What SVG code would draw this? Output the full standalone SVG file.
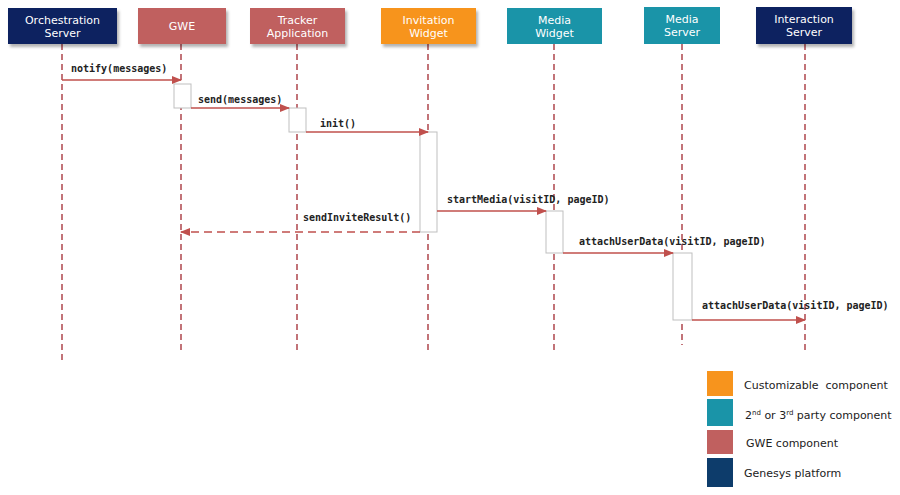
<svg xmlns="http://www.w3.org/2000/svg" width="900" height="495" viewBox="0 0 900 495">
<defs>
<filter id="sh" x="-10%" y="-10%" width="130%" height="140%">
<feDropShadow dx="2" dy="3" stdDeviation="1.5" flood-color="#000" flood-opacity="0.3"/>
</filter>
<marker id="ah" markerWidth="10" markerHeight="8" refX="9" refY="4" orient="auto" markerUnits="userSpaceOnUse">
<path d="M0,0 L10,4 L0,8 Z" fill="#c0504d"/>
</marker>
</defs>
<style>
.hd{font-family:"DejaVu Sans",Verdana,sans-serif;font-size:11px;fill:#fff;text-anchor:middle}
.ml{font-family:"DejaVu Sans Mono","Liberation Mono",monospace;font-size:10px;font-weight:bold;fill:#222}
.lg{font-family:"DejaVu Sans",Verdana,sans-serif;font-size:11px;fill:#222}
.life{stroke:#b85c62;stroke-width:1.7;stroke-dasharray:6 4;fill:none}
.msg{stroke:#c0504d;stroke-width:1.5;fill:none}
.act{fill:#fff;stroke:#bfbfbf;stroke-width:1}
.navy{fill:#0b2161}.gwe{fill:#c0605f}.orange{fill:#f7941d}.teal{fill:#1a94a8}
</style>
<rect width="900" height="495" fill="#fff"/>
<g id="lifelines">
<line class="life" x1="62" y1="44" x2="62" y2="360"/>
<line class="life" x1="181" y1="44" x2="181" y2="352"/>
<line class="life" x1="297" y1="44" x2="297" y2="352"/>
<line class="life" x1="428" y1="44" x2="428" y2="352"/>
<line class="life" x1="554" y1="44" x2="554" y2="352"/>
<line class="life" x1="682" y1="44" x2="682" y2="345"/>
<line class="life" x1="805" y1="44" x2="805" y2="352"/>
</g>
<g id="n-orch"><rect class="navy" x="8" y="8" width="109" height="36" filter="url(#sh)"/><text class="hd" x="62.5" y="24">Orchestration</text><text class="hd" x="62.5" y="37">Server</text></g>
<g id="n-gwe"><rect class="gwe" x="138" y="8" width="88" height="36" filter="url(#sh)"/><text class="hd" x="182" y="30">GWE</text></g>
<g id="n-tracker"><rect class="gwe" x="250" y="8" width="95" height="36" filter="url(#sh)"/><text class="hd" x="297.5" y="24">Tracker</text><text class="hd" x="297.5" y="37">Application</text></g>
<g id="n-invite"><rect class="orange" x="381" y="8" width="95" height="36" filter="url(#sh)"/><text class="hd" x="428.5" y="24">Invitation</text><text class="hd" x="428.5" y="37">Widget</text></g>
<g id="n-mwidget"><rect class="teal" x="507" y="8" width="95" height="36"/><text class="hd" x="554.5" y="24">Media</text><text class="hd" x="554.5" y="37">Widget</text></g>
<g id="n-mserver"><rect class="teal" x="644" y="7" width="76" height="37"/><text class="hd" x="682" y="23">Media</text><text class="hd" x="682" y="36">Server</text></g>
<g id="n-ixn"><rect class="navy" x="756" y="7" width="96" height="37" filter="url(#sh)"/><text class="hd" x="804" y="23">Interaction</text><text class="hd" x="804" y="36">Server</text></g>
<g id="activations">
<rect class="act" x="174" y="84" width="17" height="24"/>
<rect class="act" x="289" y="108" width="17" height="24"/>
<rect class="act" x="420" y="132" width="17" height="100"/>
<rect class="act" x="546" y="211" width="17" height="42"/>
<rect class="act" x="673" y="253" width="19" height="67"/>
</g>
<g id="connectors">
<line class="msg" x1="62" y1="80" x2="181" y2="80" marker-end="url(#ah)"/>
<line class="msg" x1="191" y1="108" x2="289" y2="108" marker-end="url(#ah)"/>
<line class="msg" x1="306" y1="132" x2="428" y2="132" marker-end="url(#ah)"/>
<line class="msg" x1="437" y1="211" x2="546" y2="211" marker-end="url(#ah)"/>
<line class="msg" x1="563" y1="253" x2="673" y2="253" marker-end="url(#ah)"/>
<line class="msg" x1="692" y1="320" x2="805" y2="320" marker-end="url(#ah)"/>
<line class="msg" x1="420" y1="232" x2="181" y2="232" stroke-dasharray="8 5" marker-end="url(#ah)"/>
</g>
<g id="labels">
<text class="ml" x="71" y="72">notify(messages)</text>
<text class="ml" x="198" y="103">send(messages)</text>
<text class="ml" x="320" y="127">init()</text>
<text class="ml" x="447" y="203">startMedia(visitID, pageID)</text>
<text class="ml" x="303" y="221">sendInviteResult()</text>
<text class="ml" x="579" y="245">attachUserData(visitID, pageID)</text>
<text class="ml" x="702" y="309">attachUserData(visitID, pageID)</text>
</g>
<g id="legend">
<rect class="orange" x="707" y="371" width="26" height="25"/>
<rect class="teal" x="707" y="399" width="26" height="27"/>
<rect class="gwe" x="707" y="430" width="26" height="24"/>
<rect fill="#0d3c6b" x="707" y="458" width="26" height="29"/>
<text class="lg" x="744" y="389" xml:space="preserve">Customizable  component</text>
<text class="lg" x="745" y="419">2<tspan font-size="7" dy="-4">nd</tspan><tspan dy="4"> or 3</tspan><tspan font-size="7" dy="-4">rd</tspan><tspan dy="4"> party component</tspan></text>
<text class="lg" x="746" y="447">GWE component</text>
<text class="lg" x="744" y="477">Genesys platform</text>
</g>
</svg>
